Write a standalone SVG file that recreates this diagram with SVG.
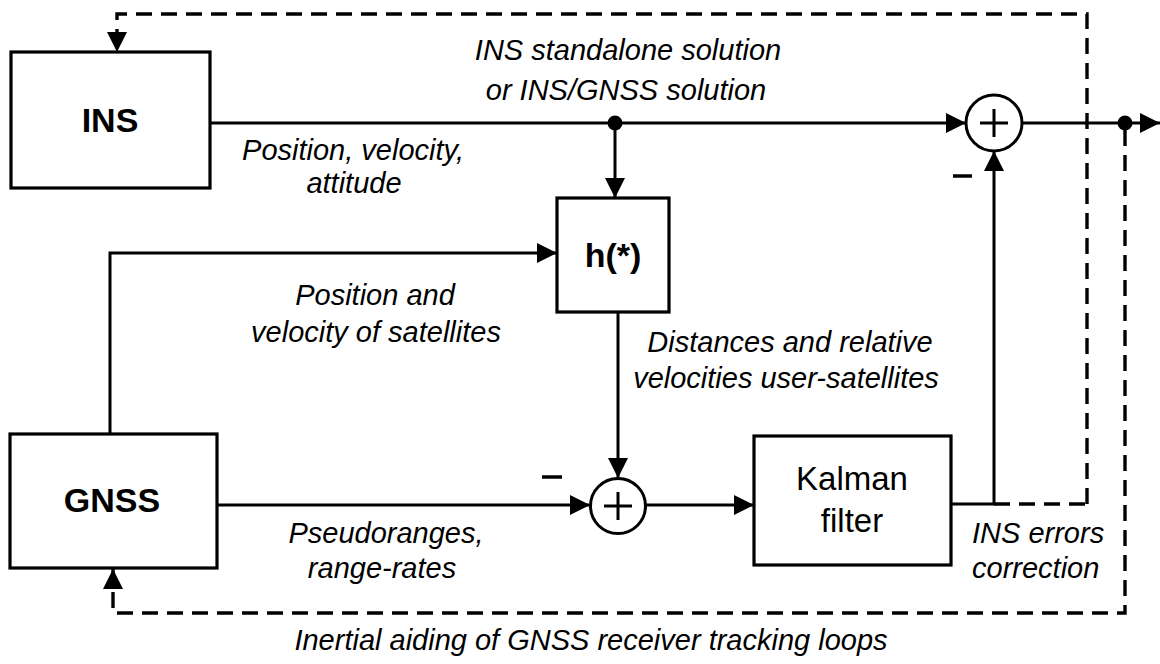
<svg xmlns="http://www.w3.org/2000/svg" width="1160" height="664" viewBox="0 0 1160 664">
<style>
.box{fill:#fff;stroke:#000;stroke-width:3.2}
.ln{fill:none;stroke:#000;stroke-width:3}
.dash{fill:none;stroke:#000;stroke-width:3.4;stroke-dasharray:16 9}
.bt{font-family:"Liberation Sans",Arial,sans-serif;font-weight:bold;font-size:34px;text-anchor:middle}
.nt{font-family:"Liberation Sans",Arial,sans-serif;font-size:33px;text-anchor:middle}
.it{font-family:"Liberation Sans",Arial,sans-serif;font-style:italic;font-size:29px;text-anchor:middle}
</style>
<defs>
<marker id="ar" markerUnits="userSpaceOnUse" markerWidth="20" markerHeight="20" refX="20" refY="10" orient="auto" viewBox="0 0 20 20">
<path d="M0,0 L20,10 L0,20 z" fill="#000"/>
</marker>
</defs>
<rect width="1160" height="664" fill="#fff"/>
<g id="connectors">
<path class="dash" d="M1087,504 V14 H117 V52" marker-end="url(#ar)"/>
<path class="dash" d="M994,504 H1087"/>
<path class="dash" d="M1125,130 V613 H113 V569" marker-end="url(#ar)"/>
<path class="ln" d="M211,123 H966" marker-end="url(#ar)"/>
<path class="ln" d="M1022,123 H1160" marker-end="url(#ar)"/>
<path class="ln" d="M615,123 V198" marker-end="url(#ar)"/>
<path class="ln" d="M110,434 V253 H557" marker-end="url(#ar)"/>
<path class="ln" d="M618,312 V478" marker-end="url(#ar)"/>
<path class="ln" d="M217,505 H590" marker-end="url(#ar)"/>
<path class="ln" d="M646,505 H754" marker-end="url(#ar)"/>
<path class="ln" d="M951,504 H994 V151" marker-end="url(#ar)"/>
<circle cx="615" cy="123" r="7.5" fill="#000"/>
<circle cx="1125" cy="123" r="7.5" fill="#000"/>
<path class="ln" d="M953,176 H972" style="stroke-width:3.5"/>
<path class="ln" d="M542,477 H562" style="stroke-width:3.5"/>
</g>
<g id="INS"><rect class="box" x="11" y="52" width="199" height="136"/><text class="bt" x="110" y="132">INS</text></g>
<g id="GNSS"><rect class="box" x="10" y="434" width="207" height="134"/><text class="bt" x="112" y="512">GNSS</text></g>
<g id="h"><rect class="box" x="557" y="198" width="112" height="114"/><text class="bt" x="613" y="267">h(*)</text></g>
<g id="kalman"><rect class="box" x="754" y="436" width="197" height="129"/><text class="nt" x="852" y="490">Kalman</text><text class="nt" x="852" y="532">filter</text></g>
<g id="sum1"><circle cx="994" cy="123" r="28" fill="#fff" stroke="#000" stroke-width="3"/><path class="ln" d="M980,123 H1008 M994,109 V137"/></g>
<g id="sum2"><circle cx="618" cy="506" r="27.5" fill="#fff" stroke="#000" stroke-width="3"/><path class="ln" d="M604,506 H632 M618,492 V520"/></g>
<g id="labels">
<text class="it" x="628" y="60">INS standalone solution</text>
<text class="it" x="626" y="100">or INS/GNSS solution</text>
<text class="it" x="353" y="160">Position, velocity,</text>
<text class="it" x="354" y="193">attitude</text>
<text class="it" x="375" y="305">Position and</text>
<text class="it" x="376" y="342">velocity of satellites</text>
<text class="it" x="790" y="352">Distances and relative</text>
<text class="it" x="786" y="388">velocities user-satellites</text>
<text class="it" x="386" y="543">Pseudoranges,</text>
<text class="it" x="382" y="578">range-rates</text>
<text class="it" x="972" y="543" style="text-anchor:start">INS errors</text>
<text class="it" x="972" y="578" style="text-anchor:start">correction</text>
<text class="it" x="591" y="650">Inertial aiding of GNSS receiver tracking loops</text>
</g>
</svg>
